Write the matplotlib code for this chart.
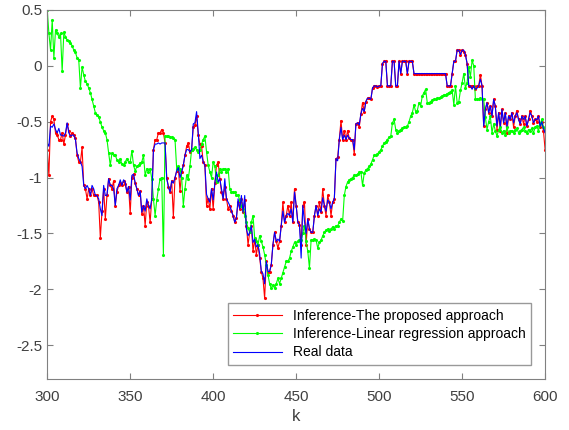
import numpy as np
import matplotlib
matplotlib.use('Agg')
import matplotlib.pyplot as plt

plt.rcParams['font.family'] = ['Liberation Sans', 'DejaVu Sans']
plt.rcParams['axes.unicode_minus'] = False

# sample index k
k = np.arange(300, 601)

# real data (blue)
real = [
    -0.69, -0.72, -0.54, -0.55, -0.52, -0.57, -0.60, -0.56, -0.62, -0.62,
    -0.63, -0.60, -0.51, -0.60, -0.63, -0.62, -0.62, -0.66, -0.78, -0.83,
    -0.86, -0.90, -1.07, -1.10, -1.07, -1.10, -1.16, -1.07, -1.10, -1.16,
    -1.16, -1.19, -1.28, -1.34, -1.07, -1.16, -1.16, -1.01, -1.07, -1.07,
    -1.10, -1.25, -1.10, -1.07, -1.02, -1.07, -1.02, -1.04, -1.13, -1.08,
    -1.20, -0.98, -0.97, -1.05, -1.10, -1.16, -1.12, -1.31, -1.25, -1.30,
    -1.19, -1.25, -1.28, -1.19, -0.75, -0.70, -0.70, -0.69, -0.70, -0.69,
    -0.69, -0.69, -1.01, -1.08, -1.13, -1.03, -1.05, -1.00, -0.94, -0.91,
    -1.00, -0.95, -0.89, -0.80, -0.75, -0.75, -0.77, -0.75, -0.52, -0.51,
    -0.41, -0.60, -0.83, -0.80, -0.86, -0.89, -1.15, -1.19, -1.22, -1.10,
    -1.20, -1.05, -0.95, -1.04, -1.01, -1.10, -1.19, -1.01, -1.19, -1.22,
    -1.25, -1.30, -1.34, -1.40, -1.36, -1.19, -1.28, -1.16, -1.31, -1.16,
    -1.46, -1.52, -1.49, -1.43, -1.58, -1.55, -1.62, -1.60, -1.68, -1.84,
    -1.86, -1.95, -1.75, -1.84, -1.84, -1.78, -1.60, -1.49, -1.57, -1.55,
    -1.57, -1.43, -1.30, -1.40, -1.34, -1.32, -1.34, -1.28, -1.40, -1.13,
    -1.25, -1.40, -1.42, -1.72, -1.25, -1.39, -1.50, -1.37, -1.46, -1.49,
    -1.49, -1.34, -1.25, -1.34, -1.28, -1.31, -1.18, -1.25, -1.30, -1.20,
    -1.22, -1.28, -1.22, -1.19, -0.83, -0.85, -0.66, -0.55, -0.66, -0.62,
    -0.66, -0.62, -0.65, -0.66, -0.66, -0.75, -0.52, -0.51, -0.53, -0.43,
    -0.38, -0.41, -0.32, -0.29, -0.29, -0.30, -0.20, -0.18, -0.18, -0.19,
    -0.18, -0.18, 0.02, 0.04, 0.04, -0.18, -0.18, -0.18, 0.04, 0.04,
    -0.18, -0.18, 0.04, -0.07, 0.04, 0.04, 0.04, -0.07, 0.04, 0.04,
    0.04, -0.07, -0.07, -0.07, -0.07, -0.07, -0.07, -0.07, -0.07, -0.07,
    -0.07, -0.07, -0.07, -0.07, -0.07, -0.07, -0.07, -0.07, -0.07, -0.07,
    -0.07, -0.18, -0.18, -0.18, -0.07, 0.04, 0.04, 0.14, 0.14, 0.10,
    0.14, 0.14, 0.10, 0.02, -0.18, -0.18, -0.21, -0.18, -0.21, -0.20,
    -0.18, -0.12, -0.18, -0.54, -0.39, -0.33, -0.42, -0.36, -0.45, -0.30,
    -0.36, -0.54, -0.42, -0.54, -0.39, -0.51, -0.42, -0.54, -0.45, -0.48,
    -0.42, -0.51, -0.45, -0.42, -0.48, -0.52, -0.45, -0.48, -0.45, -0.54,
    -0.48, -0.42, -0.45, -0.51, -0.48, -0.48, -0.45, -0.54, -0.50, -0.56,
    -0.60,
]

# proposed approach (red)
proposed = [
    -0.75, -0.98, -0.50, -0.45, -0.48, -0.60, -0.62, -0.66, -0.66, -0.60,
    -0.70, -0.62, -0.52, -0.58, -0.63, -0.60, -0.62, -0.65, -0.80, -0.86,
    -0.86, -0.73, -1.07, -1.10, -1.19, -1.10, -1.16, -1.10, -1.16, -1.16,
    -1.16, -1.22, -1.54, -1.30, -1.10, -1.37, -1.16, -1.01, -1.07, -1.10,
    -1.03, -1.25, -1.13, -1.07, -1.05, -1.07, -1.03, -1.06, -1.13, -1.08,
    -1.32, -1.00, -0.97, -1.05, -1.10, -1.16, -1.12, -1.33, -1.25, -1.43,
    -1.22, -1.25, -1.40, -1.19, -0.75, -0.66, -0.66, -0.60, -0.60, -0.57,
    -0.60, -0.69, -1.00, -1.08, -1.13, -1.03, -1.35, -1.00, -0.94, -0.91,
    -1.12, -0.95, -0.89, -0.80, -0.72, -0.69, -0.77, -0.75, -0.55, -0.53,
    -0.45, -0.62, -0.70, -0.72, -0.86, -0.89, -1.25, -1.19, -1.28, -1.10,
    -1.28, -1.05, -0.89, -0.86, -1.01, -1.13, -1.19, -1.08, -1.19, -1.28,
    -1.25, -1.30, -1.34, -1.40, -1.36, -1.22, -1.28, -1.19, -1.31, -1.20,
    -1.43, -1.60, -1.49, -1.43, -1.66, -1.55, -1.69, -1.60, -1.72, -1.84,
    -1.90, -2.08, -1.75, -1.84, -1.84, -1.78, -1.60, -1.49, -1.57, -1.63,
    -1.57, -1.43, -1.22, -1.40, -1.34, -1.25, -1.34, -1.22, -1.40, -1.10,
    -1.25, -1.40, -1.42, -1.60, -1.25, -1.22, -1.60, -1.37, -1.46, -1.49,
    -1.49, -1.34, -1.25, -1.34, -1.22, -1.31, -1.10, -1.25, -1.34, -1.16,
    -1.22, -1.34, -1.22, -1.19, -0.83, -0.82, -0.66, -0.49, -0.66, -0.58,
    -0.66, -0.58, -0.65, -0.66, -0.66, -0.79, -0.52, -0.51, -0.55, -0.43,
    -0.33, -0.41, -0.32, -0.29, -0.29, -0.30, -0.20, -0.18, -0.18, -0.19,
    -0.18, -0.18, 0.02, 0.04, 0.04, -0.18, -0.18, -0.18, 0.04, 0.04,
    -0.18, -0.18, 0.04, -0.07, 0.04, 0.04, 0.04, -0.07, 0.04, 0.04,
    0.04, -0.07, -0.07, -0.07, -0.07, -0.07, -0.07, -0.07, -0.07, -0.07,
    -0.07, -0.07, -0.07, -0.07, -0.07, -0.07, -0.07, -0.07, -0.07, -0.07,
    -0.07, -0.18, -0.18, -0.18, -0.07, 0.04, 0.04, 0.14, 0.14, 0.10,
    0.14, 0.12, 0.10, 0.02, -0.18, -0.18, -0.18, -0.18, -0.21, -0.18,
    -0.18, -0.08, -0.18, -0.54, -0.39, -0.33, -0.42, -0.36, -0.45, -0.30,
    -0.36, -0.57, -0.42, -0.58, -0.39, -0.51, -0.42, -0.60, -0.45, -0.48,
    -0.42, -0.55, -0.45, -0.40, -0.48, -0.52, -0.45, -0.52, -0.45, -0.54,
    -0.48, -0.40, -0.45, -0.51, -0.48, -0.50, -0.45, -0.55, -0.50, -0.58,
    -0.75,
]

# linear regression approach (green)
linreg = [
    0.50, 0.29, 0.14, 0.41, 0.07, 0.32, 0.29, 0.26, 0.29, -0.05,
    0.30, 0.26, 0.23, 0.22, 0.20, 0.18, 0.14, 0.12, 0.07, 0.05,
    -0.20, -0.01, -0.08, -0.14, -0.16, -0.20, -0.24, -0.30, -0.36, -0.42,
    -0.44, -0.46, -0.50, -0.55, -0.58, -0.60, -0.66, -0.78, -0.89, -0.78,
    -0.80, -0.80, -0.84, -0.86, -0.83, -0.88, -0.89, -0.86, -0.83, -0.86,
    -0.86, -0.76, -0.89, -0.94, -0.90, -0.89, -0.87, -0.86, -0.80, -0.98,
    -0.92, -0.95, -0.92, -1.01, -1.19, -1.34, -1.20, -1.10, -1.01, -1.00,
    -1.69, -0.63, -0.63, -0.63, -0.64, -0.64, -0.65, -0.66, -0.92, -0.90,
    -0.92, -1.00, -1.25, -1.10, -0.98, -1.01, -0.90, -0.75, -0.74, -0.73,
    -0.75, -0.77, -0.75, -0.70, -0.66, -0.63, -0.77, -0.89, -0.95, -1.00,
    -0.86, -0.90, -1.04, -0.98, -0.92, -0.95, -0.92, -0.92, -0.95, -0.92,
    -1.10, -1.13, -1.13, -1.13, -1.16, -1.16, -1.20, -1.25, -1.28, -1.34,
    -1.40, -1.45, -1.49, -1.40, -1.34, -1.54, -1.57, -1.60, -1.52, -1.57,
    -1.62, -1.69, -1.78, -1.87, -1.95, -1.99, -1.96, -1.99, -1.95, -1.90,
    -1.95, -1.90, -1.85, -1.80, -1.75, -1.75, -1.72, -1.66, -1.62, -1.58,
    -1.60, -1.57, -1.56, -1.56, -1.50, -1.43, -1.57, -1.66, -1.81, -1.56,
    -1.56, -1.55, -1.56, -1.63, -1.58, -1.56, -1.52, -1.49, -1.47, -1.46,
    -1.48, -1.46, -1.44, -1.46, -1.43, -1.43, -1.40, -1.37, -1.39, -1.16,
    -1.08, -1.04, -1.02, -1.01, -1.00, -0.98, -0.98, -0.97, -0.95, -0.95,
    -1.07, -0.96, -0.93, -0.92, -0.90, -0.88, -0.84, -0.80, -0.80, -0.79,
    -0.77, -0.75, -0.72, -0.69, -0.68, -0.66, -0.64, -0.63, -0.51, -0.48,
    -0.57, -0.60, -0.58, -0.57, -0.56, -0.55, -0.55, -0.54, -0.50, -0.45,
    -0.42, -0.35, -0.41, -0.40, -0.33, -0.36, -0.27, -0.24, -0.21, -0.33,
    -0.33, -0.32, -0.31, -0.30, -0.30, -0.29, -0.29, -0.28, -0.27, -0.26,
    -0.26, -0.25, -0.24, -0.23, -0.22, -0.35, -0.18, -0.33, -0.32, -0.22,
    -0.15, -0.07, -0.20, -0.15, -0.01, -0.10, 0.05, 0.00, -0.30, -0.30,
    -0.30, -0.29, -0.30, -0.30, -0.46, -0.57, -0.50, -0.45, -0.60, -0.52,
    -0.58, -0.63, -0.57, -0.55, -0.60, -0.58, -0.62, -0.55, -0.60, -0.58,
    -0.58, -0.60, -0.57, -0.56, -0.60, -0.58, -0.57, -0.55, -0.58, -0.60,
    -0.57, -0.58, -0.56, -0.60, -0.55, -0.54, -0.58, -0.52, -0.48, -0.55,
    -0.57,
]

labels = ['Inference-The proposed approach',
          'Inference-Linear regression approach',
          'Real data']

fig = plt.figure(figsize=(5.69, 4.30), dpi=100)
ax = fig.add_axes([0.083, 0.119, 0.875, 0.858])

ax.plot(k, proposed, color='#ff0000', lw=0.8, marker='.', ms=2.5, label=labels[0])
ax.plot(k, linreg, color='#00ff00', lw=0.8, marker='.', ms=2.5, label=labels[1])
ax.plot(k, real, color='#0000ff', lw=0.8, label=labels[2])

ax.set_xlim(300, 600)
ax.set_ylim(-2.8, 0.5)
ax.set_xticks([300, 350, 400, 450, 500, 550, 600])
ax.set_yticks([0.5, 0, -0.5, -1, -1.5, -2, -2.5])
ax.set_yticklabels(['0.5', '0', '-0.5', '-1', '-1.5', '-2', '-2.5'])
ax.set_xlabel('k', fontsize=12, color='#404040', labelpad=4)

for s in ax.spines.values():
    s.set_color('#808080')
ax.tick_params(direction='in', top=True, right=True, length=4,
               color='#808080', labelcolor='#404040', labelsize=11)
ax.tick_params(axis='x', pad=8)

leg = ax.legend(loc='lower right', fontsize=10, frameon=True, fancybox=False,
                borderaxespad=1.0, handlelength=3.5, labelspacing=0.3)
leg.get_frame().set_edgecolor('#808080')
leg.get_frame().set_linewidth(1.0)

fig.savefig('out.png', dpi=100)
